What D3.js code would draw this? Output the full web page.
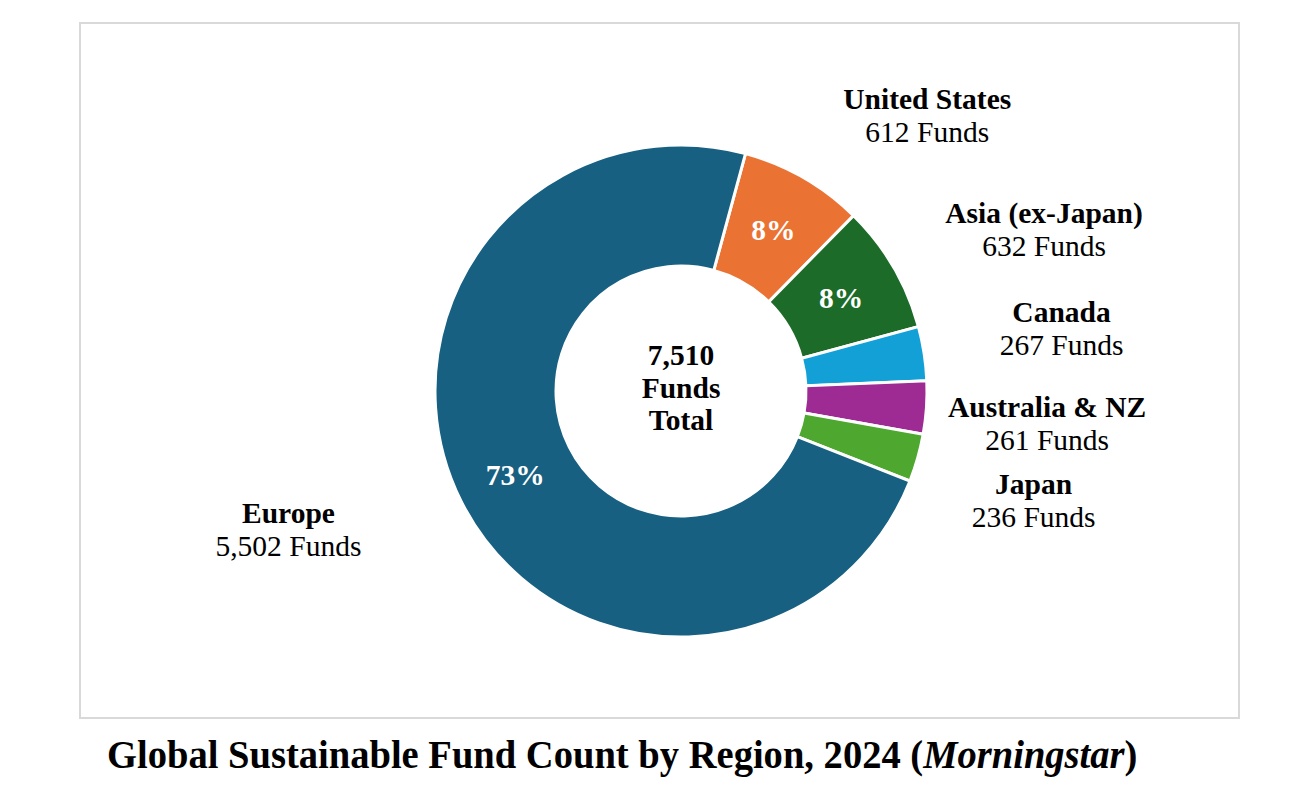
<!DOCTYPE html>
<html>
<head>
<meta charset="utf-8">
<script src="https://cdn.jsdelivr.net/npm/d3@7"></script>
<style>
  html, body { margin: 0; padding: 0; background: #fff; }
  svg { display: block; }
  text { font-family: "Liberation Serif", "Times New Roman", serif; }
</style>
</head>
<body>
<svg id="chart" width="1304" height="798"></svg>
<script>
// ---- data ----
const regions = ["United States", "Asia (ex-Japan)", "Canada", "Australia & NZ", "Japan", "Europe"];
const fundCounts = [612, 632, 267, 261, 236, 5502];
const regionColors = ["#ea7333", "#1c6b28", "#12a0d7", "#9d2b93", "#4ea72e", "#176082"];
const totalLabel = ["7,510", "Funds", "Total"];
const titleMain = "Global Sustainable Fund Count by Region, 2024 (";
const titleSource = "Morningstar";

// ---- layout ----
const W = 1304, H = 798;
const cx = 681, cy = 391;
const outerR = 246, innerR = 125;
const labelR = 380;
const startDeg = 15.2;
const fs = 29.5;
// fine placement nudges for outside labels (layout only)
const labelNudge = [[57, 54], [35, 30], [5, -5], [-13, 6], [-13, 6], [-53, -33]];

const svg = d3.select("#chart");

svg.append("rect")
  .attr("x", 80).attr("y", 23).attr("width", 1159).attr("height", 695)
  .attr("fill", "#fff").attr("stroke", "#d9d9d9").attr("stroke-width", 2);

const data = regions.map((r, i) => ({ region: r, count: fundCounts[i], color: regionColors[i], i }));
const total = d3.sum(fundCounts);

const pie = d3.pie()
  .value(d => d.count)
  .sort(null)
  .startAngle(startDeg * Math.PI / 180)
  .endAngle(startDeg * Math.PI / 180 + 2 * Math.PI);

const arc = d3.arc().innerRadius(innerR).outerRadius(outerR);
const arcs = pie(data);

const g = svg.append("g").attr("transform", `translate(${cx},${cy})`);

g.selectAll("path.slice")
  .data(arcs)
  .join("path")
  .attr("class", "slice")
  .attr("d", arc)
  .attr("fill", d => d.data.color)
  .attr("stroke", "#fff")
  .attr("stroke-width", 3)
  .attr("stroke-linejoin", "miter");

// percent labels on slices
const pctFmt = v => Math.round(v * 100) + "%";
g.selectAll("text.pct")
  .data(arcs.filter(d => d.data.count / total >= 0.05))
  .join("text")
  .attr("class", "pct")
  .attr("transform", d => `translate(${arc.centroid(d)})`)
  .attr("text-anchor", "middle")
  .attr("dy", "0.35em")
  .attr("fill", "#fff")
  .attr("font-weight", "bold")
  .attr("font-size", fs)
  .text(d => pctFmt(d.data.count / total));

// center total
g.selectAll("text.total")
  .data(totalLabel)
  .join("text")
  .attr("class", "total")
  .attr("text-anchor", "middle")
  .attr("x", 0)
  .attr("y", (d, i) => -26 + i * 32.5)
  .attr("font-weight", "bold")
  .attr("font-size", fs)
  .attr("fill", "#000")
  .text(d => d);

// outside labels
const fmt = d3.format(",");
const lbl = g.selectAll("g.lbl")
  .data(arcs)
  .join("g")
  .attr("class", "lbl")
  .attr("transform", d => {
    const a = (d.startAngle + d.endAngle) / 2;
    const n = labelNudge[d.data.i];
    return `translate(${labelR * Math.sin(a) + n[0]},${-labelR * Math.cos(a) + n[1]})`;
  });

lbl.append("text")
  .attr("text-anchor", "middle")
  .attr("y", -6)
  .attr("font-weight", "bold")
  .attr("font-size", fs)
  .text(d => d.data.region);

lbl.append("text")
  .attr("text-anchor", "middle")
  .attr("y", 27)
  .attr("font-size", fs)
  .text(d => fmt(d.data.count) + " Funds");

// title
const title = svg.append("text")
  .attr("x", 0).attr("y", 0)
  .attr("font-weight", "bold")
  .attr("font-size", 39)
  .attr("fill", "#000");
title.append("tspan").text(titleMain);
title.append("tspan").attr("font-style", "italic").text(titleSource);
title.append("tspan").text(")");

const tw = title.node().getComputedTextLength();
const targetW = 1031;
const sx = targetW / tw;
title.attr("transform", `translate(107,768) scale(${sx},1)`);
</script>
</body>
</html>
